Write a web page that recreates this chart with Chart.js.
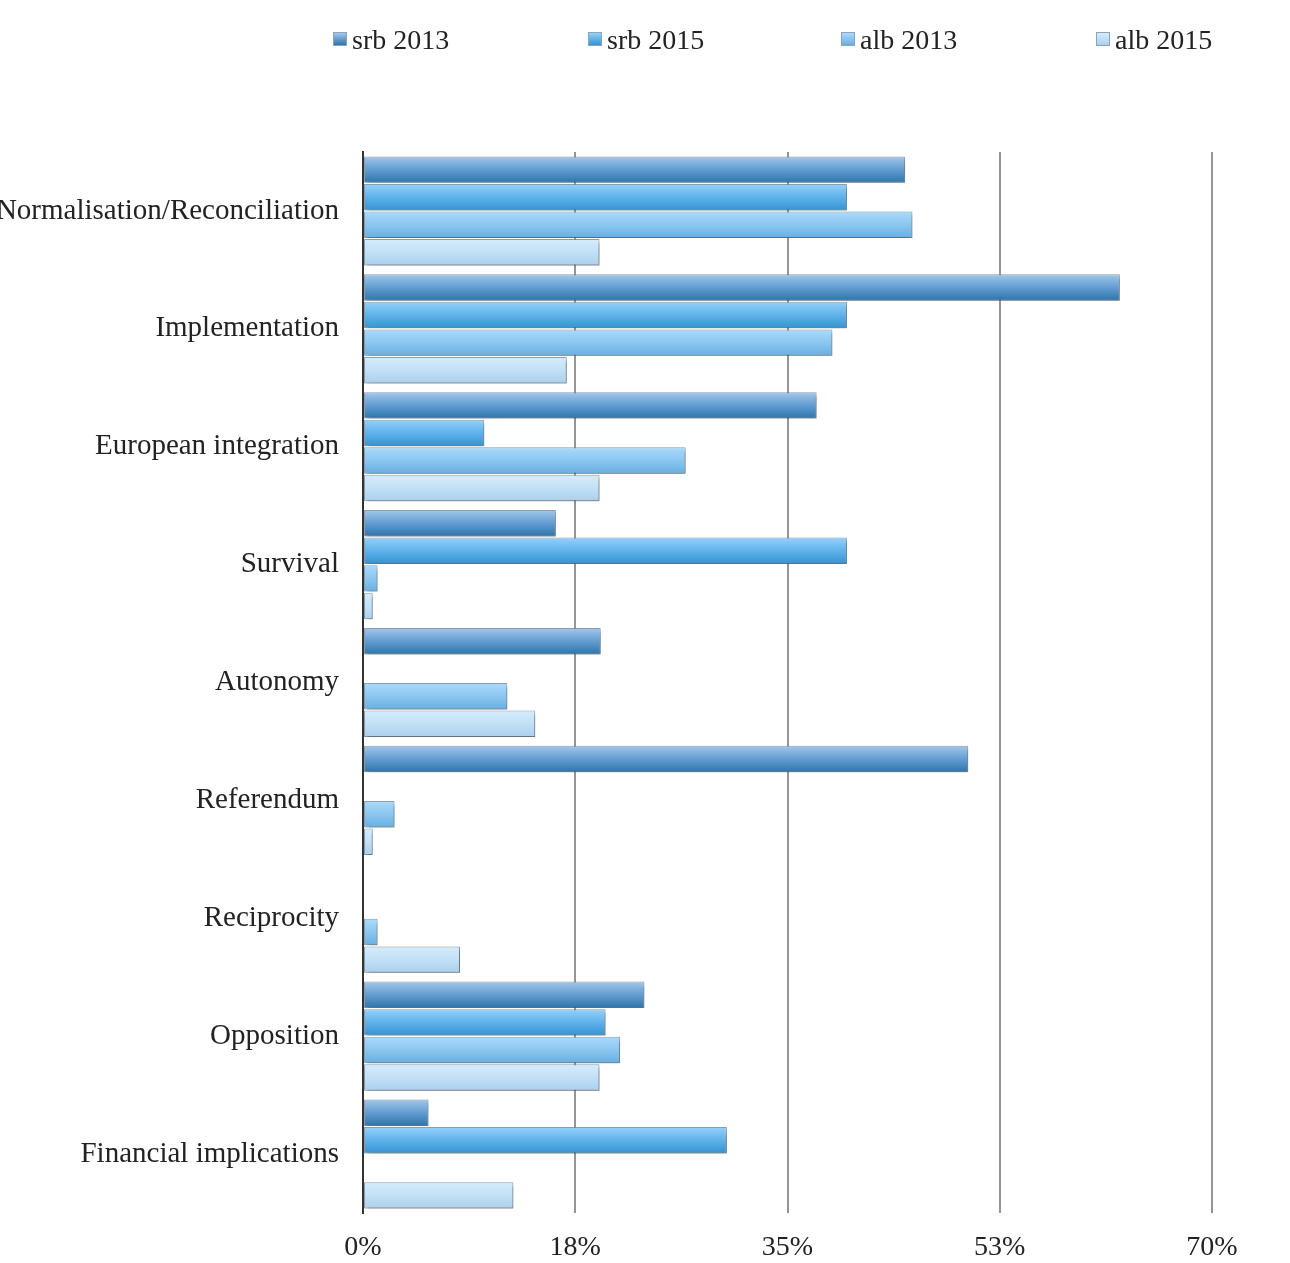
<!DOCTYPE html>
<html>
  <head>
    <meta charset="UTF-8" />
    <title>Frames srb / alb</title>
    <script src="https://cdn.jsdelivr.net/npm/chart.js"></script>
    <style>
      body {
        margin: 0;
        background: #fff;
      }

      .wrap {
        position: relative;
        width: 1290px;
        height: 1263px;
      }

      #legend {
        position: absolute;
        top: 24px;
        left: 0;
        width: 1290px;
        height: 40px;
        font-family: "Liberation Serif", "Times New Roman", serif;
        font-size: 28px;
        color: #222;
      }

      #legend span.item {
        position: absolute;
        top: 0;
        white-space: nowrap;
      }

      #legend span.box {
        display: inline-block;
        width: 12px;
        height: 12px;
        margin-right: 5px;
        border: 1px solid #8aa4bb;
        vertical-align: 3px;
      }
    </style>
  </head>

  <body>
    <div class="wrap">
      <canvas id="chart" width="1290" height="1263"></canvas>
      <div id="legend"></div>
    </div>

    <script>
      // categories, top to bottom
      const categories = [
        "Normalisation/Reconciliation",
        "Implementation",
        "European integration",
        "Survival",
        "Autonomy",
        "Referendum",
        "Reciprocity",
        "Opposition",
        "Financial implications",
      ];

      // shares in %
      const srb2013 = [44.7, 62.4, 37.4, 15.9, 19.6, 49.9, 0, 23.2, 5.4];
      const srb2015 = [39.9, 39.9, 10.0, 39.9, 0, 0, 0, 20.0, 30.0];
      const alb2013 = [45.3, 38.7, 26.6, 1.2, 11.9, 2.6, 1.2, 21.2, 0];
      const alb2015 = [19.5, 16.8, 19.5, 0.8, 14.2, 0.8, 8.0, 19.5, 12.4];

      const seriesNames = ["srb 2013", "srb 2015", "alb 2013", "alb 2015"];
      const xTicks = [0, 17.5, 35, 52.5, 70];

      // top / middle / bottom colours of the bar gradients
      const shades = [
        ["#a4c7ea", "#629dd2", "#2c74ab"],
        ["#95d1fa", "#5fb2ea", "#3592d2"],
        ["#aadbfb", "#8cc6f0", "#66afe2"],
        ["#d6ecfc", "#c2e0f6", "#accfec"],
      ];

      const seriesData = [srb2013, srb2015, alb2013, alb2015];

      // gradients need the bar position, so set them just before drawing
      const barGradients = {
        id: "barGradients",
        beforeDatasetsDraw(chart) {
          const ctx = chart.ctx;
          chart.data.datasets.forEach((ds, i) => {
            chart.getDatasetMeta(i).data.forEach((bar) => {
              const h = bar.height;
              const g = ctx.createLinearGradient(0, bar.y - h / 2, 0, bar.y + h / 2);
              g.addColorStop(0, shades[i][0]);
              g.addColorStop(0.5, shades[i][1]);
              g.addColorStop(1, shades[i][2]);
              bar.options.backgroundColor = g;
            });
          });
          ctx.save();
          ctx.shadowColor = "rgba(0,0,0,0.35)";
          ctx.shadowBlur = 4;
          ctx.shadowOffsetX = 2;
          ctx.shadowOffsetY = 3;
        },
        afterDatasetsDraw(chart) {
          chart.ctx.restore();
        },
      };

      const chart = new Chart(document.getElementById("chart"), {
        type: "bar",
        data: {
          labels: categories,
          datasets: seriesData.map((d, i) => ({
            label: seriesNames[i],
            data: d,
            // scriptable so every bar gets its own options object
            backgroundColor: (c) => shades[c.datasetIndex][1],
            borderColor: "rgba(110,140,165,0.8)",
            borderWidth: 1,
            borderSkipped: false,
            categoryPercentage: 0.935,
            barPercentage: 0.96,
          })),
        },
        options: {
          indexAxis: "y",
          responsive: false,
          animation: false,
          layout: {
            padding: { top: 152, right: 78, bottom: 0, left: 0 },
          },
          plugins: {
            legend: { display: false },
            tooltip: { enabled: false },
          },
          scales: {
            x: {
              min: 0,
              max: 70,
              afterBuildTicks(scale) {
                scale.ticks = xTicks.map((v) => ({ value: v }));
              },
              afterFit(scale) {
                scale.height = 50;
              },
              grid: {
                color: "#959595",
                lineWidth: 2,
                drawTicks: false,
              },
              border: { display: false },
              ticks: {
                padding: 18,
                color: "#222",
                font: { family: "Liberation Serif", size: 28 },
                callback: (v) => Math.round(v) + "%",
              },
            },
            y: {
              afterFit(scale) {
                scale.width = 363;
              },
              grid: { display: false, drawTicks: false },
              border: { display: true, color: "#333", width: 2 },
              ticks: {
                padding: 24,
                color: "#222",
                font: { family: "Liberation Serif", size: 29 },
              },
            },
          },
        },
        plugins: [barGradients],
      });

      // legend spread over the top, as in the original
      const legendX = [333, 588, 841, 1096];
      const legend = document.getElementById("legend");
      seriesNames.forEach((name, i) => {
        const item = document.createElement("span");
        item.className = "item";
        item.style.left = legendX[i] + "px";
        const box = document.createElement("span");
        box.className = "box";
        box.style.background =
          "linear-gradient(" + shades[i][0] + ", " + shades[i][2] + ")";
        item.appendChild(box);
        item.appendChild(document.createTextNode(name));
        legend.appendChild(item);
      });
    </script>
  </body>
</html>
